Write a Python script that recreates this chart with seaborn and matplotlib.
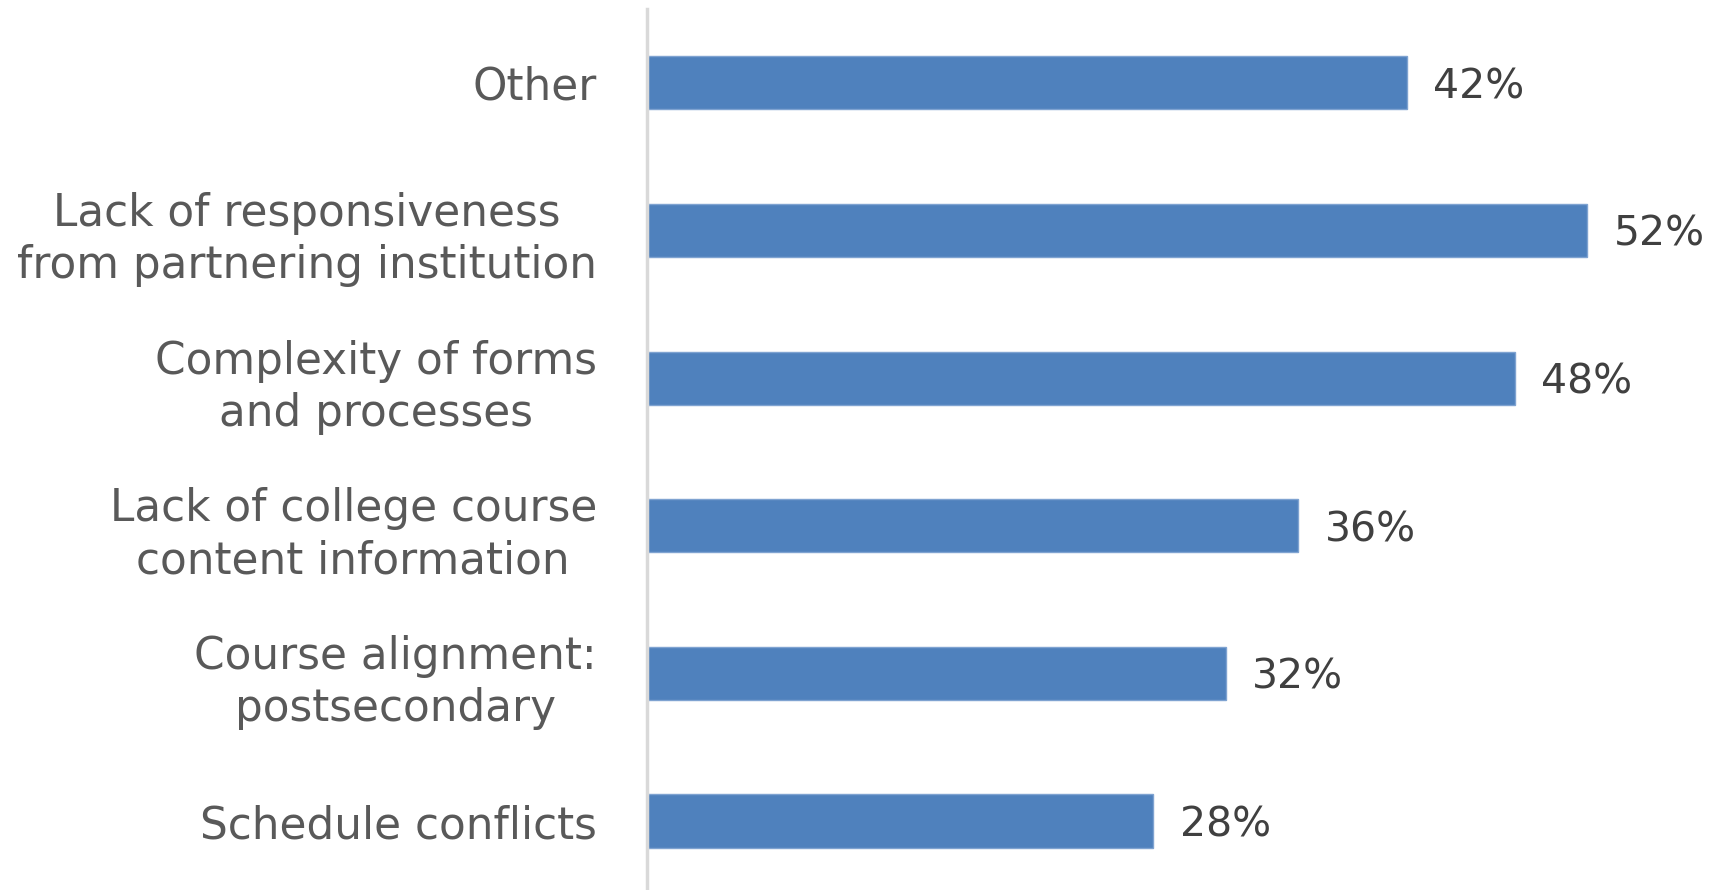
import matplotlib
matplotlib.use("Agg")
import matplotlib.pyplot as plt
import seaborn as sns
import pandas as pd

categories = [
    "Other",
    "Lack of responsiveness\nfrom partnering institution",
    "Complexity of forms\nand processes",
    "Lack of college course\ncontent information",
    "Course alignment:\npostsecondary",
    "Schedule conflicts",
]
percent = [42, 52, 48, 36, 32, 28]

df = pd.DataFrame({"category": categories, "percent": percent})

sns.set_theme(style="white")
plt.rcParams["font.family"] = ["DejaVu Sans"]

fig = plt.figure(figsize=(17.14, 8.90), dpi=100)
ax = fig.add_axes([647 / 1714, 0.0, 1 - 647 / 1714, 1 - 9 / 890])

sns.barplot(data=df, x="percent", y="category", orient="h",
            color="#4F81BD", saturation=1, width=0.36,
            edgecolor="#7FA3D1", linewidth=1, ax=ax)

ax.set_xlim(0, 59)
ax.set_ylim(5.467, -0.5)

value_texts = ax.bar_label(ax.containers[0], labels=[f"{v}%" for v in percent],
                           padding=19, fontsize=29.5, color="#404040")
for t in value_texts:
    t.set_verticalalignment("center_baseline")

ax.set_xlabel("")
ax.set_ylabel("")
ax.set_xticks([])
ax.tick_params(axis="y", length=0, pad=36, labelsize=31.5, labelcolor="#595959")
for lbl in ax.get_yticklabels():
    lbl.set_multialignment("center")
    lbl.set_linespacing(1.28)

for side in ["top", "right", "bottom"]:
    ax.spines[side].set_visible(False)
ax.spines["left"].set_color("#D9D9D9")
ax.spines["left"].set_linewidth(2.5)

fig.savefig("out.png", dpi=100, facecolor="white")
